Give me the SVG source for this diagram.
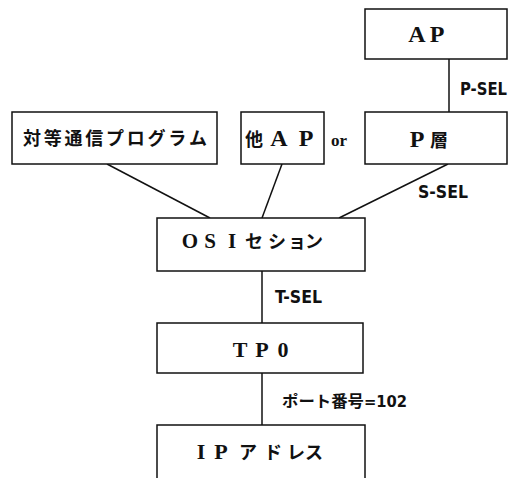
<svg xmlns="http://www.w3.org/2000/svg" width="512" height="478" viewBox="0 0 512 478">
<style>
.box{fill:#fff;stroke:#111;stroke-width:1.5}
.ln{stroke:#111;stroke-width:1.5;fill:none}
.t{font-family:"Noto Sans CJK JP",sans-serif;font-size:18px;font-weight:bold;fill:#111;text-anchor:middle}
.s{font-family:"Liberation Serif","Noto Sans CJK JP",serif;font-size:22px;font-weight:bold}
.l{font-family:"DejaVu Sans Condensed","DejaVu Sans","Noto Sans CJK JP",sans-serif;font-stretch:condensed;font-size:17px;font-weight:bold;fill:#111}
</style>
<rect width="512" height="478" fill="#fff"/>
<g id="connectors">
<line class="ln" x1="449" y1="59" x2="449" y2="112"/>
<line class="ln" x1="107" y1="164" x2="210" y2="218"/>
<line class="ln" x1="282" y1="164" x2="262" y2="218"/>
<line class="ln" x1="448" y1="164" x2="339" y2="218"/>
<line class="ln" x1="262" y1="271" x2="262" y2="323"/>
<line class="ln" x1="262" y1="373" x2="262" y2="425"/>
<text class="l" x="460" y="95" textLength="47" lengthAdjust="spacingAndGlyphs">P-SEL</text>
<text class="l" x="418" y="198" textLength="50" lengthAdjust="spacingAndGlyphs">S-SEL</text>
<text class="l" x="275" y="303" textLength="47" lengthAdjust="spacingAndGlyphs">T-SEL</text>
<text class="l" x="282" y="407" textLength="125" lengthAdjust="spacingAndGlyphs" style="font-size:16px">ポート番号=102</text>
</g>
<g id="ap">
<rect class="box" x="365" y="9" width="142" height="50"/>
<text class="t" y="42"><tspan class="s" style="font-size:24px" x="417 437">AP</tspan></text>
</g>
<g id="player">
<rect class="box" x="365" y="112" width="142" height="52"/>
<text class="t" y="147"><tspan class="s" style="font-size:24px" x="417">P</tspan><tspan x="439">層</tspan></text>
</g>
<g id="peer">
<rect class="box" x="12" y="112" width="205" height="52"/>
<text class="t" y="145" x="32 52.75 73.5 94.25 115 135.75 156.5 177.25 198">対等通信プログラム</text>
</g>
<g id="otherap">
<rect class="box" x="241" y="112" width="83" height="52"/>
<text class="t" y="146"><tspan x="254">他</tspan><tspan class="s" style="font-size:24px" x="279 306">AP</tspan></text>
</g>
<g id="or">
<text x="331" y="146" style="font-family:'Liberation Serif',serif;font-size:17px;font-weight:bold;fill:#111">or</text>
</g>
<g id="osi">
<rect class="box" x="157" y="218" width="208" height="53"/>
<text class="t" y="248"><tspan class="s" style="font-size:21px" x="190 210 232">OSI</tspan><tspan x="254 277 297 314">セション</tspan></text>
</g>
<g id="tp0">
<rect class="box" x="157" y="323" width="206" height="50"/>
<text class="t" y="357"><tspan class="s" x="240 262 283">TP0</tspan></text>
</g>
<g id="ip">
<rect class="box" x="157" y="425" width="208" height="55"/>
<text class="t" y="459"><tspan class="s" x="201 221">IP</tspan><tspan x="248 273 296 314">アドレス</tspan></text>
</g>
</svg>
